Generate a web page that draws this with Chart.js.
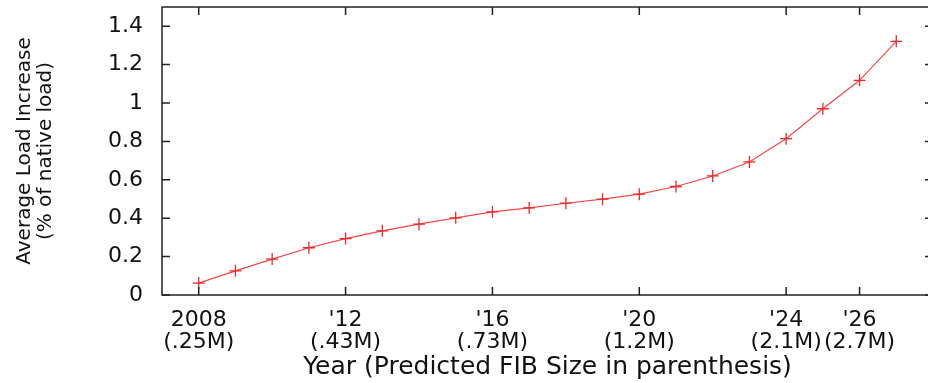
<!DOCTYPE html>
<html>
<head>
<meta charset="utf-8">
<script src="https://cdn.jsdelivr.net/npm/chart.js@4.4.1/dist/chart.umd.min.js"></script>
<style>
  html, body { margin: 0; padding: 0; background: #fff; overflow: hidden; }
  /* the original figure is cut off just before its right frame line */
  #wrap { width: 928px; height: 383px; overflow: hidden; }
</style>
</head>
<body>
<div id="wrap"><canvas id="loadChart" width="934" height="383"></canvas></div>
<script>
// years on the x axis and the average load increase
const years = [2008, 2009, 2010, 2011, 2012, 2013, 2014, 2015, 2016, 2017,
               2018, 2019, 2020, 2021, 2022, 2023, 2024, 2025, 2026, 2027];
const loadIncrease = [0.062, 0.126, 0.187, 0.246, 0.294, 0.334, 0.369, 0.402, 0.433, 0.454,
                      0.478, 0.499, 0.525, 0.565, 0.620, 0.693, 0.814, 0.970, 1.118, 1.321];

// labelled ticks and the predicted FIB size under each one
const tickYears = [2008, 2012, 2016, 2020, 2024, 2026];
const tickNames = ['2008', "'12", "'16", "'20", "'24", "'26"];
const fibSizes = ['(.25M)', '(.43M)', '(.73M)', '(1.2M)', '(2.1M)', '(2.7M)'];
const yTicks = [0, 0.2, 0.4, 0.6, 0.8, 1, 1.2, 1.4];

const fontFamily = '"DejaVu Sans", "Liberation Sans", Arial, sans-serif';

// gnuplot style frame with inward ticks on all four sides
const framePlugin = {
    id: 'frame',
    afterDraw(chart) {
        const { ctx, chartArea: a, scales } = chart;
        const len = 8;
        ctx.save();
        ctx.strokeStyle = '#222';
        ctx.lineWidth = 1.5;
        ctx.strokeRect(a.left, a.top, a.right - a.left, a.bottom - a.top);
        ctx.beginPath();
        tickYears.forEach(v => {
            const x = scales.x.getPixelForValue(v);
            ctx.moveTo(x, a.bottom); ctx.lineTo(x, a.bottom - len);
            ctx.moveTo(x, a.top); ctx.lineTo(x, a.top + len);
        });
        yTicks.forEach(v => {
            const y = scales.y.getPixelForValue(v);
            ctx.moveTo(a.left, y); ctx.lineTo(a.left + len, y);
            ctx.moveTo(a.right, y); ctx.lineTo(a.right - len, y);
        });
        ctx.stroke();
        ctx.restore();
    }
};

const chart = new Chart(document.getElementById('loadChart'), {
    type: 'line',
    data: {
        datasets: [{
            data: years.map((yr, i) => ({ x: yr, y: loadIncrease[i] })),
            borderColor: '#f24848',
            borderWidth: 1.2,
            pointStyle: 'cross',
            pointRadius: 6,
            pointBorderWidth: 1.3,
            pointBorderColor: '#f02626',
            tension: 0
        }]
    },
    options: {
        responsive: false,
        animation: { duration: 0 },
        layout: { autoPadding: false, padding: { top: 7, right: 1, left: 0, bottom: 0 } },
        plugins: { legend: { display: false }, tooltip: { enabled: false } },
        scales: {
            x: {
                type: 'linear',
                min: 2007,
                max: 2028,
                afterBuildTicks: scale => { scale.ticks = tickYears.map(v => ({ value: v })); },
                afterFit: scale => {
                    scale.height = 88;
                    scale.paddingLeft = 0;
                    scale.paddingRight = 0;
                },
                grid: { display: false, drawTicks: false },
                border: { display: false },
                ticks: {
                    padding: 14,
                    maxRotation: 0,
                    autoSkip: false,
                    color: '#111',
                    font: { family: fontFamily, size: 22, lineHeight: 1.0 },
                    callback: v => {
                        const i = tickYears.indexOf(v);
                        return [tickNames[i], fibSizes[i]];
                    }
                },
                title: {
                    display: true,
                    text: 'Year (Predicted FIB Size in parenthesis)',
                    color: '#111',
                    font: { family: fontFamily, size: 25, lineHeight: 1.0 },
                    padding: { top: 0, bottom: 3 }
                }
            },
            y: {
                min: 0,
                max: 1.5,
                afterBuildTicks: scale => { scale.ticks = yTicks.map(v => ({ value: v })); },
                afterFit: scale => {
                    scale.width = 162;
                    scale.paddingTop = 0;
                    scale.paddingBottom = 0;
                },
                grid: { display: false, drawTicks: false },
                border: { display: false },
                ticks: {
                    padding: 19,
                    color: '#111',
                    font: { family: fontFamily, size: 22 },
                    callback: v => String(Math.round(v * 10) / 10)
                },
                title: {
                    display: true,
                    text: ['Average Load Increase', '(% of native load)'],
                    color: '#111',
                    font: { family: fontFamily, size: 20, lineHeight: 1.05 },
                    padding: { top: 14, bottom: 0 }
                }
            }
        }
    },
    plugins: [framePlugin]
});
</script>
</body>
</html>
